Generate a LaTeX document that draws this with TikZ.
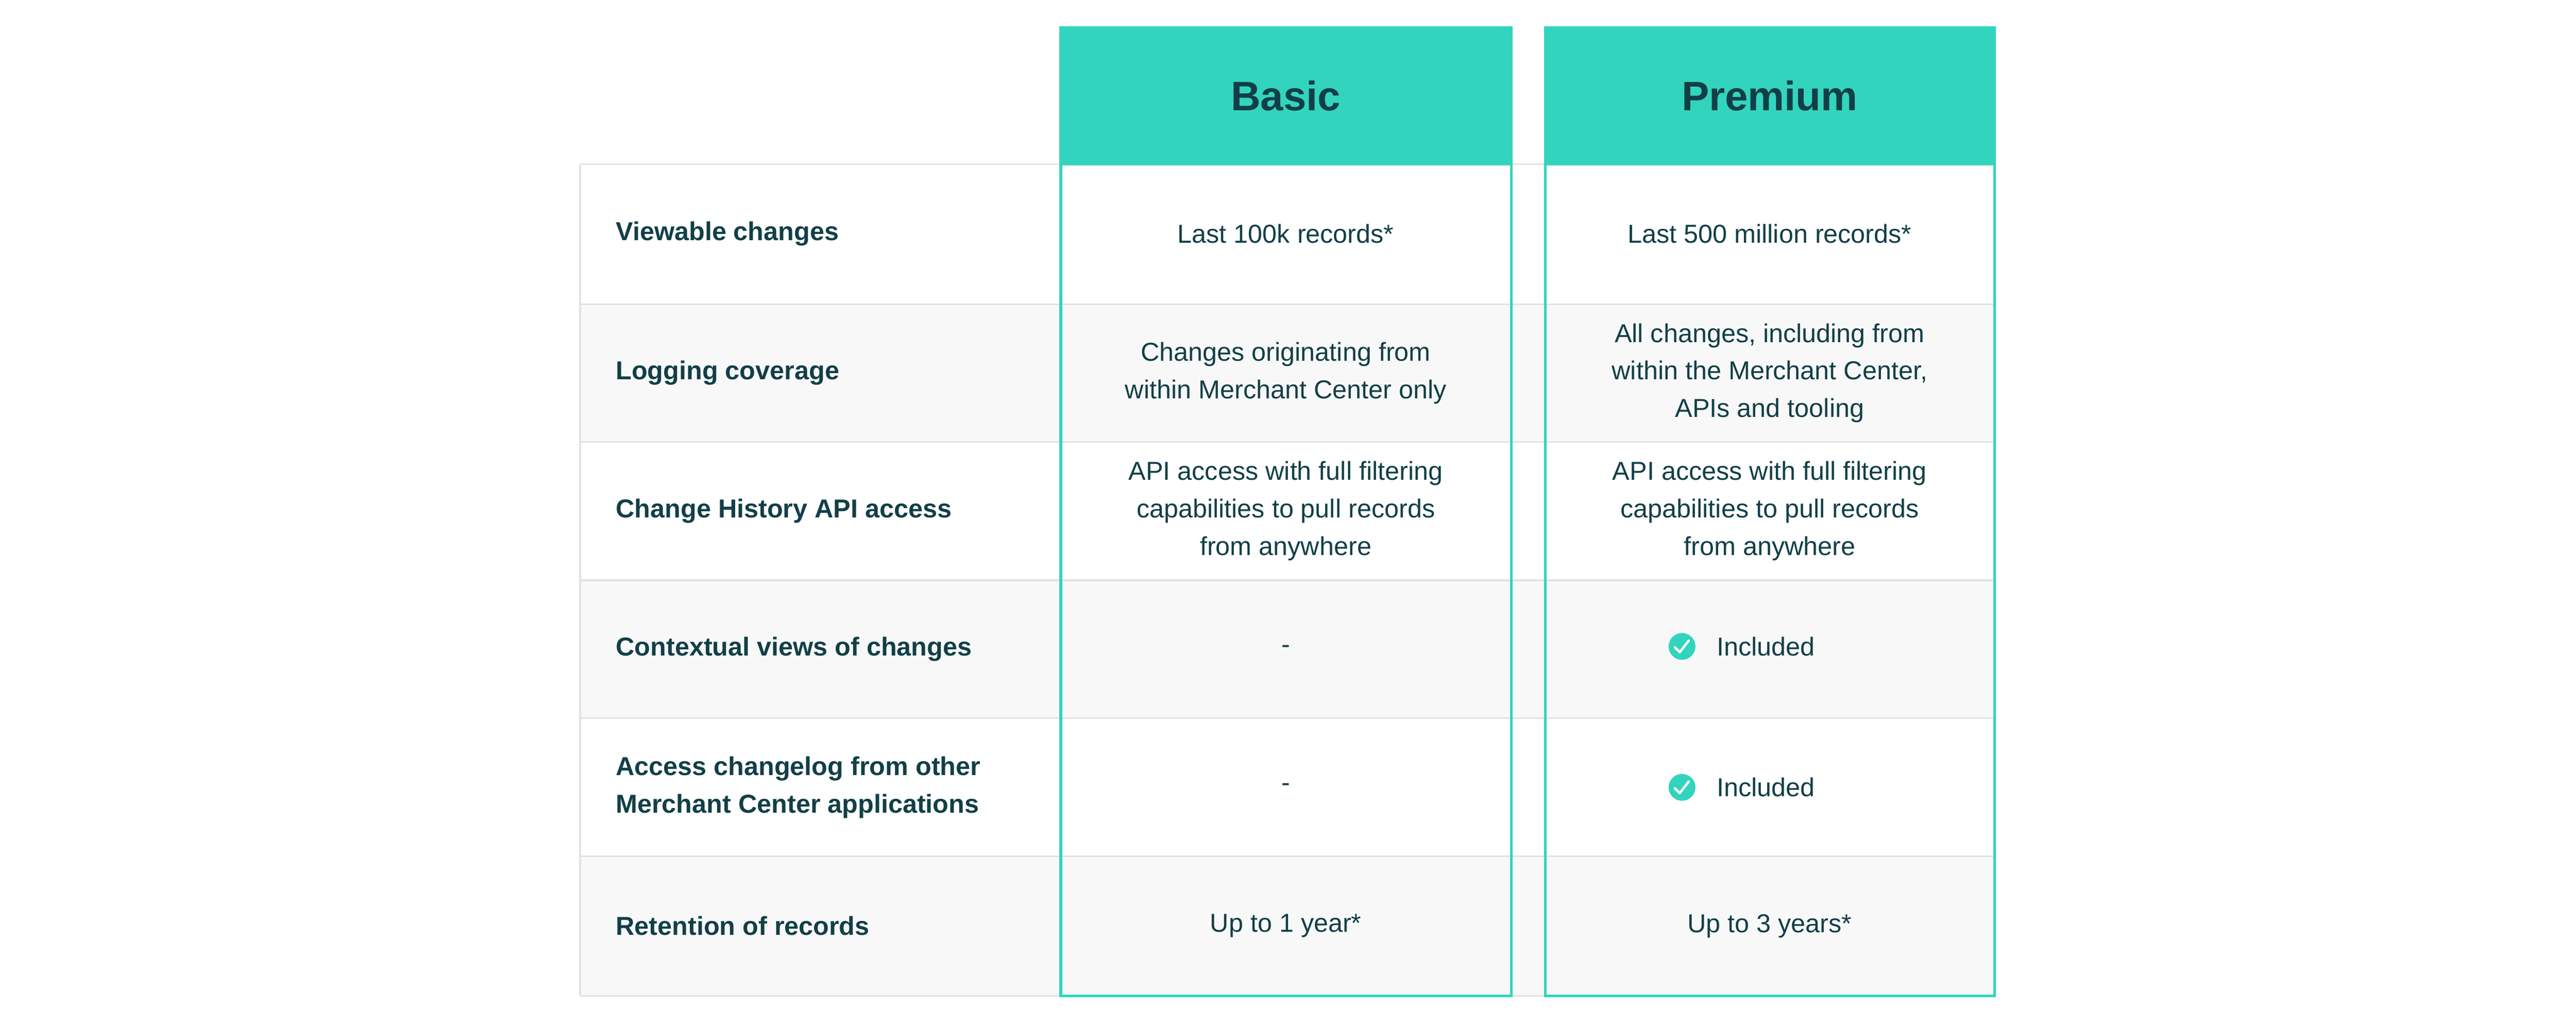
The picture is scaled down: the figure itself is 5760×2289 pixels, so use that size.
\documentclass[tikz,border=0pt]{standalone}
\usepackage{fontspec}
\setmainfont{Liberation Sans}
\definecolor{teal}{HTML}{33D4BD}
\definecolor{ink}{HTML}{123F47}
\definecolor{rowgray}{HTML}{F8F8F8}
\definecolor{rule}{HTML}{E2E2E2}
\begin{document}
\begin{tikzpicture}[x=0.25pt,y=-0.25pt,
  lab/.style={anchor=west,align=left,text=ink,font=\fontsize{14.5}{21}\selectfont\bfseries},
  val/.style={align=center,text=ink,font=\fontsize{14.5}{21}\selectfont},
  head/.style={text=ink,font=\fontsize{23}{28}\selectfont\bfseries},
  tick/.style={circle,fill=teal,minimum size=15pt,inner sep=0pt}]
\useasboundingbox (0,0) rectangle (5760,2289);
% row backgrounds
\foreach \a/\b/\c in {367/680/white,680/988/rowgray,988/1297/white,1297/1605/rowgray,1605/1914/white,1914/2226/rowgray}
  \fill[\c] (1297,\a) rectangle (4463,\b);
\foreach \yy in {367,680,988,1297,1605,1914,2226}
  \draw[rule,line width=1pt] (1297,\yy) -- (4463,\yy);
\draw[rule,line width=1pt] (1297,367) -- (1297,2226);
% headers
\fill[teal] (2369,59) rectangle (3382,370);
\fill[teal] (3452,59) rectangle (4463,370);
\draw[teal,line width=1.5pt] (2372,367) rectangle (3379,2226);
\draw[teal,line width=1.5pt] (3455,367) rectangle (4460,2226);
\node[head] (hb) at (2875,214) {Basic};
\node[head] (hp) at (3957,214) {Premium};
% labels
\node[lab] (l1) at (1363,523) {Viewable changes};
\node[lab] (l2) at (1363,834) {Logging coverage};
\node[lab] (l3) at (1363,1142) {Change History API access};
\node[lab] (l4) at (1363,1451) {Contextual views of changes};
\node[lab] (l5) at (1363,1760) {Access changelog from other\\Merchant Center applications};
\node[lab] (l6) at (1363,2070) {Retention of records};
% basic
\node[val] (b1) at (2875,523) {Last 100k records*};
\node[val] (b2) at (2875,834) {Changes originating from\\within Merchant Center only};
\node[val] (b3) at (2875,1142) {API access with full filtering\\capabilities to pull records\\from anywhere};
\node[val] (b4) at (2875,1451) {-};
\node[val] (b5) at (2875,1760) {-};
\node[val] (b6) at (2875,2070) {Up to 1 year*};
% premium
\node[val] (p1) at (3957,523) {Last 500 million records*};
\node[val] (p2) at (3957,834) {All changes, including from\\within the Merchant Center,\\APIs and tooling};
\node[val] (p3) at (3957,1142) {API access with full filtering\\capabilities to pull records\\from anywhere};
\node[val,anchor=west] (p4) at (3825,1445) {Included};
\node[val,anchor=west] (p5) at (3825,1760) {Included};
\node[val] (p6) at (3957,2070) {Up to 3 years*};
\foreach \yy/\n in {1445/c4,1760/c5}{
  \node[tick] (\n) at (3761,\yy) {};
  \draw[white,line width=1.3pt,line cap=round,line join=round] (3745,\yy+2) -- (3756,\yy+13) -- (3776,\yy-13);
}
\end{tikzpicture}
\end{document}
